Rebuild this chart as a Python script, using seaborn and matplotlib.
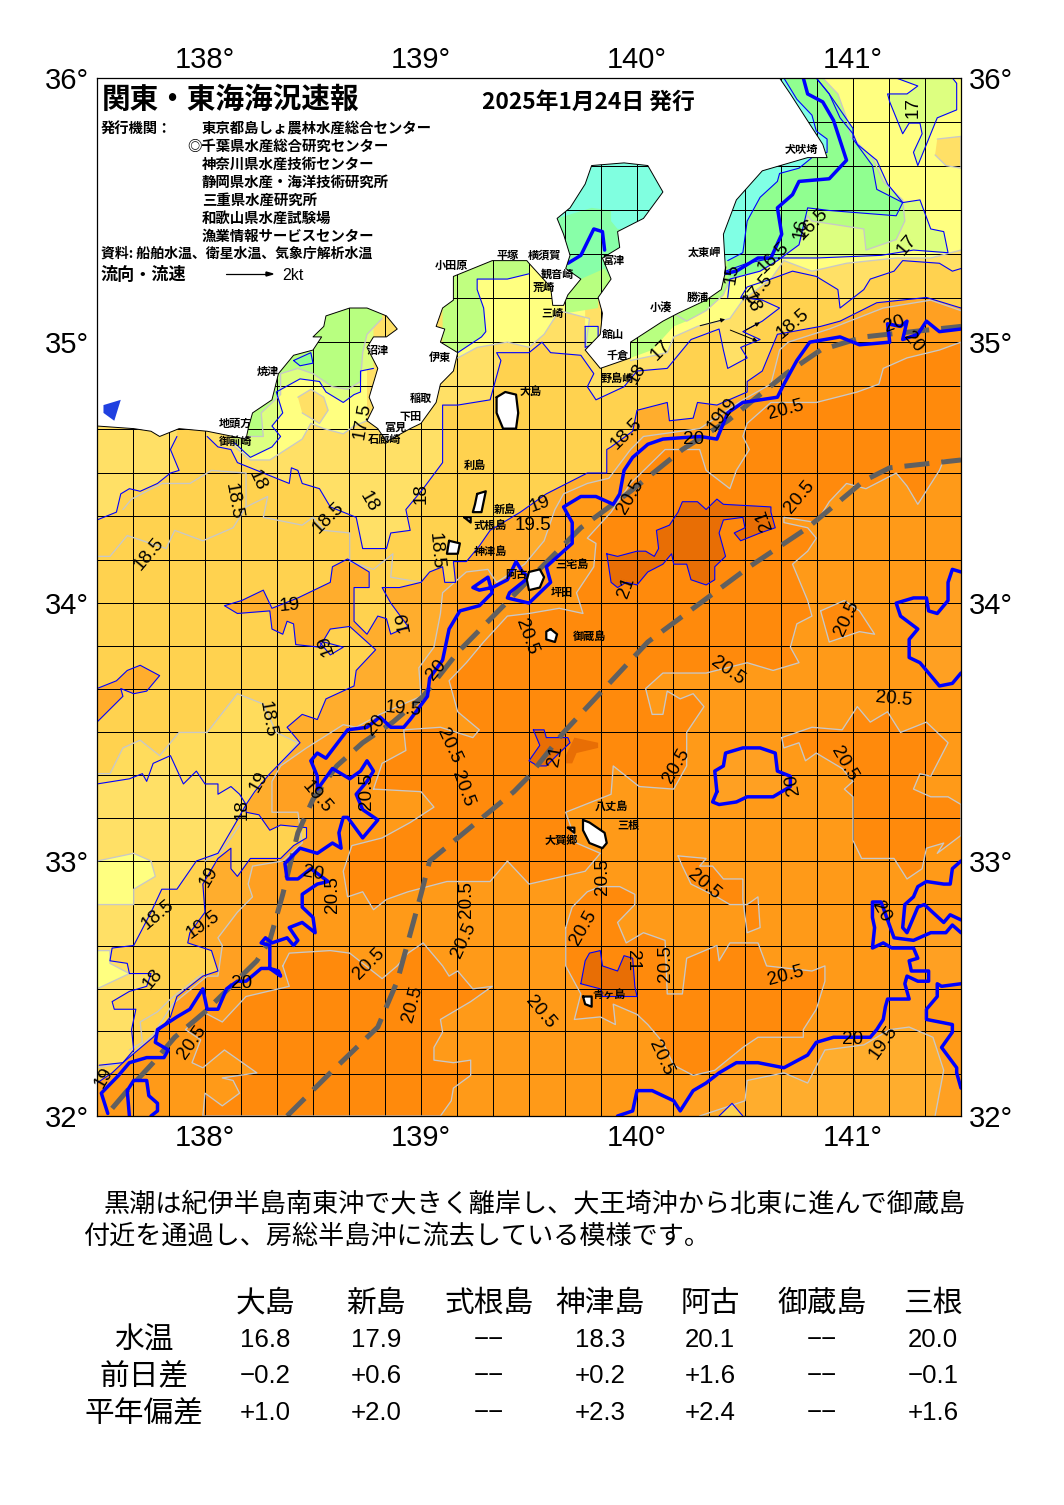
import numpy as np
import matplotlib
matplotlib.use("Agg")
import matplotlib.pyplot as plt
import seaborn as sns

# contour lines and areas, (lon, lat)
c20_main = [(137.55,32.01),(137.52,32.09),(137.60,32.16),(137.65,32.21),(137.73,32.23),(137.81,32.23),(137.83,32.26),(137.77,32.29),(137.78,32.34),(137.87,32.39),(137.93,32.42),(137.99,32.50),(138.01,32.42),(138.06,32.42),(138.10,32.50),(138.15,32.53),(138.19,32.53),(138.26,32.58),(138.30,32.58),(138.35,32.55),(138.34,32.57),(138.30,32.58),(138.30,32.67),(138.26,32.68),(138.28,32.70),(138.31,32.68),(138.38,32.70),(138.41,32.67),(138.43,32.69),(138.39,32.74),(138.45,32.76),(138.51,32.72),(138.50,32.78),(138.45,32.82),(138.45,32.87),(138.52,32.91),(138.57,32.92),(138.49,32.97),(138.43,32.93),(138.38,32.93),(138.37,32.99),(138.44,33.05),(138.52,33.03),(138.59,33.07),(138.63,33.05),(138.62,33.11),(138.64,33.17),(138.66,33.17),(138.73,33.09),(138.80,33.16),(138.73,33.20),(138.70,33.26),(138.75,33.31),(138.78,33.35),(138.75,33.39),(138.72,33.35),(138.67,33.32),(138.59,33.36),(138.53,33.29),(138.52,33.28),(138.52,33.33),(138.49,33.39),(138.52,33.42),(138.56,33.40),(138.66,33.51),(138.75,33.52),(138.81,33.56),(138.86,33.52),(138.92,33.52),(138.95,33.55),(139.03,33.64),(139.04,33.71),(139.10,33.78),(139.13,33.90),(139.18,33.97),(139.27,33.99),(139.33,34.04),(139.31,34.10),(139.24,34.06),(139.27,34.05),(139.33,34.06),(139.40,34.09),(139.44,34.16),(139.47,34.12),(139.50,34.10),(139.47,34.08),(139.41,34.04),(139.40,34.02),(139.50,34.00),(139.60,34.08),(139.58,34.14),(139.70,34.23),(139.70,34.31),(139.66,34.37),(139.74,34.41),(139.81,34.41),(139.89,34.38),(139.92,34.42),(139.94,34.51),(139.98,34.56),(140.05,34.61),(140.12,34.63),(140.29,34.64),(140.37,34.63),(140.42,34.73),(140.49,34.77),(140.65,34.79),(140.68,34.84),(140.74,34.93),(140.80,35.00),(140.94,35.02),(141.03,34.99),(141.17,35.00),(141.16,35.07),(141.22,35.06),(141.25,35.08),(141.23,35.01),(141.30,35.03),(141.34,35.08),(141.40,35.04),(141.50,35.05)]
c20_south = [(141.50,32.72),(141.46,32.75),(141.43,32.72),(141.36,32.72),(141.28,32.69),(141.19,32.70),(141.16,32.77),(141.13,32.84),(141.09,32.84),(141.09,32.78),(141.10,32.74),(141.09,32.66),(141.14,32.68),(141.18,32.66),(141.28,32.66),(141.30,32.62),(141.26,32.61),(141.27,32.57),(141.35,32.57),(141.35,32.53),(141.30,32.53),(141.25,32.55),(141.24,32.52),(141.26,32.46),(141.16,32.46),(141.15,32.43),(141.14,32.38),(141.11,32.34),(141.08,32.31),(140.91,32.31),(140.83,32.29),(140.79,32.24),(140.68,32.19),(140.56,32.21),(140.46,32.21),(140.38,32.17),(140.32,32.13),(140.26,32.10),(140.20,32.02),(140.17,32.06),(140.07,32.10),(140.00,32.10),(139.98,32.02),(139.91,32.00)]
c20_east = [(141.50,33.00),(141.46,32.97),(141.45,32.91),(141.42,32.91),(141.34,32.92),(141.30,32.90),(141.28,32.86),(141.24,32.83),(141.23,32.74),(141.25,32.72),(141.30,32.82),(141.33,32.83),(141.42,32.76),(141.45,32.79),(141.50,32.77)]
c20_pocket = [(141.50,32.52),(141.41,32.51),(141.39,32.52),(141.39,32.47),(141.34,32.42),(141.34,32.38),(141.46,32.36),(141.46,32.33),(141.41,32.27),(141.48,32.19),(141.48,32.17),(141.50,32.11)]
c20_ne_loop = [(141.50,34.12),(141.46,34.13),(141.44,34.08),(141.44,34.01),(141.39,33.96),(141.35,33.97),(141.34,34.02),(141.28,34.02),(141.20,34.00),(141.22,33.95),(141.30,33.90),(141.26,33.86),(141.26,33.79),(141.31,33.77),(141.40,33.68),(141.46,33.69),(141.50,33.73)]
c20_mid_loop = [(140.37,33.27),(140.36,33.35),(140.40,33.37),(140.41,33.42),(140.49,33.44),(140.57,33.44),(140.64,33.42),(140.65,33.35),(140.71,33.33),(140.71,33.29),(140.63,33.25),(140.51,33.25),(140.46,33.23),(140.38,33.22),(140.35,33.23),(140.37,33.27)]
c20_sw_loop = [(137.65,32.00),(137.64,32.10),(137.67,32.14),(137.73,32.14),(137.74,32.08),(137.78,32.05),(137.78,32.02),(137.75,32.00)]
c20_bay = [(139.68,35.30),(139.74,35.33),(139.80,35.43),(139.84,35.42),(139.85,35.35)]
c16_thick = [(140.40,35.26),(140.46,35.27),(140.56,35.32),(140.62,35.32),(140.67,35.41),(140.65,35.51),(140.72,35.56),(140.75,35.61),(140.89,35.62),(140.97,35.69),(140.91,35.84),(140.86,35.91),(140.79,35.94),(140.77,36.00)]

# kuroshio axis, two branches
kuroshio_north = [(137.57,32.03),(137.64,32.10),(137.76,32.21),(137.86,32.31),(138.00,32.41),(138.24,32.61),(138.30,32.69),(138.36,32.87),(138.43,33.11),(138.50,33.24),(138.61,33.37),(138.73,33.46),(138.87,33.54),(139.01,33.64),(139.17,33.81),(139.37,33.98),(139.50,34.09),(139.74,34.29),(139.97,34.43),(140.21,34.59),(140.42,34.70),(140.69,34.88),(140.85,34.97),(141.05,35.02),(141.50,35.06)]
kuroshio_south = [(138.38,32.00),(138.58,32.17),(138.80,32.35),(138.89,32.53),(139.00,32.87),(139.04,33.00),(139.17,33.09),(139.43,33.27),(139.50,33.33),(139.66,33.50),(140.05,33.85),(140.52,34.14),(140.79,34.29),(141.05,34.47),(141.17,34.52),(141.50,34.55)]

c195 = [(137.50,32.19),(137.62,32.21),(137.76,32.32),(137.85,32.44),(138.01,32.55),(138.06,32.55),(138.08,32.67),(138.06,32.70),(138.15,32.80),(138.22,32.86),(138.20,32.91),(138.22,32.98),(138.36,33.00),(138.45,33.07),(138.43,33.19),(138.31,33.19),(138.31,33.31),(138.35,33.37),(138.47,33.44),(138.64,33.53),(138.70,33.52),(138.81,33.57),(139.00,33.64),(138.99,33.75),(139.06,33.83),(139.09,33.96),(139.10,34.04),(139.21,34.12),(139.31,34.13),(139.35,34.08),(139.48,34.15),(139.57,34.24),(139.62,34.36),(139.66,34.42),(139.77,34.46),(139.87,34.48),(139.97,34.59),(140.03,34.64),(140.29,34.67),(140.49,34.78),(140.62,34.84),(140.66,34.97),(140.70,35.00),(140.89,35.05),(141.14,35.13),(141.36,35.16),(141.50,35.12)]
c19 = [(137.50,32.13),(137.57,32.17),(137.62,32.21),(137.76,32.31),(137.84,32.39),(137.87,32.47),(137.99,32.55),(138.06,32.57),(138.03,32.65),(137.92,32.68),(137.93,32.72),(138.00,32.80),(137.99,32.91),(138.06,33.01),(138.12,33.05),(138.12,32.97),(138.15,32.94),(138.21,33.01),(138.35,33.01),(138.41,33.06),(138.47,33.09),(138.47,33.13),(138.35,33.14),(138.30,33.12),(138.25,33.18),(138.19,33.19),(138.19,33.22),(138.23,33.27),(138.30,33.34),(138.44,33.46),(138.38,33.52),(138.45,33.57),(138.52,33.55),(138.56,33.63),(138.69,33.68),(138.70,33.74),(138.79,33.82),(138.67,33.91),(138.58,33.90),(138.53,33.83),(138.42,33.84),(138.41,33.92),(138.38,33.93),(138.36,33.88),(138.31,33.90),(138.30,33.97),(138.15,33.96),(138.09,33.99),(138.17,34.01),(138.27,34.05),(138.31,33.98),(138.43,34.02),(138.58,34.08),(138.59,34.14),(138.66,34.17),(138.76,34.12),(138.76,34.06),(138.69,34.06),(138.69,33.93),(138.75,33.88),(138.80,33.95),(138.84,33.94),(138.86,33.88),(138.94,33.91),(138.86,34.00),(138.82,34.06),(138.90,34.06),(139.00,34.08),(139.04,34.12),(139.10,34.14),(139.11,34.08),(139.16,34.08),(139.15,34.16),(139.21,34.16),(139.27,34.22),(139.32,34.28),(139.46,34.35),(139.58,34.42),(139.77,34.50),(139.86,34.50),(139.86,34.59),(139.88,34.60),(139.98,34.66),(140.00,34.74),(140.14,34.77),(140.15,34.70),(140.26,34.71),(140.28,34.77),(140.37,34.76),(140.51,34.81),(140.51,34.85),(140.58,34.89),(140.65,35.03),(140.85,35.06),(140.94,35.08),(141.11,35.15),(141.34,35.17),(141.50,35.13)]
c19_west = [(137.50,33.67),(137.59,33.70),(137.64,33.74),(137.70,33.76),(137.79,33.72),(137.73,33.66),(137.67,33.65),(137.61,33.67),(137.62,33.64),(137.56,33.59),(137.50,33.54)]
c19_small = [(138.53,33.85),(138.58,33.80),(138.64,33.83),(138.55,33.85)]

c18_west = [(137.50,34.32),(137.59,34.35),(137.61,34.42),(137.65,34.44),(137.70,34.43),(137.78,34.46),(137.84,34.50),(137.88,34.51),(137.84,34.59),(137.87,34.64)]
c18_main = [(138.01,34.64),(138.06,34.60),(138.12,34.59),(138.15,34.54),(138.39,34.46),(138.40,34.52),(138.43,34.51),(138.45,34.46),(138.53,34.44),(138.58,34.37),(138.70,34.33),(138.73,34.21),(138.84,34.21),(138.86,34.27),(138.95,34.28),(138.93,34.36),(139.01,34.44),(139.10,34.54),(139.10,34.59),(139.10,34.76),(139.17,34.76),(139.32,34.78),(139.33,34.81),(139.37,34.93),(139.35,34.96),(139.50,34.96),(139.56,35.00),(139.60,34.96),(139.74,34.95),(139.80,34.88),(139.77,34.83),(139.81,34.78),(139.94,34.83),(140.00,34.89),(140.14,34.90),(140.25,35.01),(140.38,35.05),(140.40,34.97),(140.42,34.90),(140.51,34.94),(140.48,34.98),(140.57,35.01),(140.49,35.04),(140.58,35.08),(140.66,35.13),(140.58,35.16),(140.48,35.17),(140.51,35.21),(140.62,35.24),(140.72,35.27),(140.83,35.25),(140.93,35.20),(140.94,35.13),(141.05,35.20),(141.08,35.24),(141.19,35.27),(141.23,35.31),(141.40,35.30),(141.46,35.27),(141.50,35.28)]
c18_south = [(137.50,33.30),(137.65,33.32),(137.71,33.34),(137.73,33.31),(137.76,33.38),(137.84,33.41),(137.90,33.30),(137.96,33.35),(138.00,33.30),(138.06,33.30),(138.06,33.26),(138.12,33.29),(138.16,33.26),(138.19,33.22),(138.15,33.16),(138.06,33.03),(137.96,33.00),(137.87,32.89),(137.80,32.89),(137.75,32.80),(137.67,32.67),(137.57,32.66),(137.56,32.61),(137.64,32.60),(137.65,32.56),(137.75,32.56),(137.73,32.51),(137.65,32.49),(137.57,32.45),(137.58,32.42),(137.68,32.42),(137.66,32.34),(137.67,32.26),(137.62,32.21),(137.51,32.20)]

g185_a = [(137.62,34.36),(137.66,34.40),(137.80,34.46),(137.93,34.46),(138.03,34.51),(138.19,34.50),(138.19,34.37),(138.13,34.29),(137.99,34.24),(137.86,34.28),(137.82,34.21),(137.64,34.26),(137.56,34.18),(137.50,34.18)]
g185_b = [(138.19,34.37),(138.29,34.41),(138.27,34.33),(138.45,34.30),(138.50,34.33),(138.55,34.28),(138.67,34.27),(138.67,34.16),(138.78,34.13),(138.87,34.19),(138.86,34.10),(139.00,34.08)]
g185_c = [(137.50,33.34),(137.56,33.34),(137.62,33.44),(137.70,33.47),(137.79,33.41),(137.88,33.50),(138.01,33.50),(138.15,33.65),(138.27,33.61),(138.33,33.50),(138.43,33.46),(138.35,33.38)]
g185_d = [(137.65,32.26),(137.71,32.29),(137.70,32.37),(137.78,32.41),(137.84,32.46),(137.87,32.48),(137.99,32.56)]
g185_e = [(138.00,33.00),(138.08,33.04),(138.16,33.14)]
yellow_a = [(137.50,33.00),(137.67,33.03),(137.75,33.00),(137.77,32.94),(137.67,32.89),(137.67,32.83),(137.50,32.83)]
yellow_b = [(137.50,32.65),(137.56,32.65),(137.56,32.60),(137.65,32.56),(137.50,32.50)]

# north of the coast bands, west to east
c175_suruga = [(138.11,34.62),(138.21,34.55),(138.30,34.55),(138.45,34.63),(138.49,34.69),(138.55,34.67),(138.64,34.65),(138.69,34.68),(138.75,34.70)]
suruga_warm = [(138.43,34.79),(138.49,34.82),(138.55,34.79),(138.57,34.74),(138.53,34.69),(138.45,34.73)]
c17_suruga = [(138.13,34.62),(138.21,34.56),(138.31,34.60),(138.35,34.64),(138.31,34.68),(138.36,34.73),(138.33,34.81),(138.44,34.86),(138.53,34.85),(138.56,34.81),(138.64,34.77),(138.69,34.80),(138.72,34.81),(138.72,34.89),(138.78,34.90)]
c165_suruga = [(138.20,34.64),(138.27,34.64),(138.26,34.73),(138.35,34.80),(138.35,34.88),(138.43,34.90),(138.50,34.88),(138.59,34.83),(138.66,34.82),(138.72,34.85),(138.73,34.96),(138.75,35.03),(138.82,35.09)]
c16_suruga = [(138.41,34.93),(138.49,34.96),(138.50,34.92),(138.44,34.91),(138.41,34.93)]
c17_sagami = [(139.17,34.96),(139.28,35.02),(139.30,35.04),(139.29,35.13),(139.26,35.20),(139.26,35.24),(139.40,35.24),(139.50,35.26)]
c175_sagami = [(139.17,34.94),(139.26,34.98),(139.40,35.00),(139.50,34.98),(139.57,35.03),(139.64,35.12),(139.78,35.09),(139.76,34.97)]
c175_east = [(139.97,34.93),(140.14,34.96),(140.17,35.02),(140.28,35.06),(140.43,35.09),(140.49,35.16),(140.62,35.24),(140.68,35.31),(140.81,35.27),(140.97,35.30),(141.20,35.32),(141.36,35.32),(141.50,35.35)]
c17_east = [(140.41,35.27),(140.51,35.30),(140.63,35.32),(140.83,35.32),(141.13,35.33),(141.28,35.35),(141.44,35.34),(141.42,35.42),(141.36,35.43),(141.31,35.54),(141.23,35.53),(141.16,35.60),(141.11,35.69),(141.02,35.75),(141.00,35.79),(140.94,35.85),(140.89,35.94),(140.83,36.00)]
c165_east = [(140.17,35.11),(140.23,35.08),(140.32,35.12),(140.40,35.18),(140.43,35.24),(140.57,35.27),(140.65,35.31),(140.75,35.37),(140.79,35.48),(140.81,35.46),(141.05,35.43),(141.06,35.35),(141.20,35.39),(141.24,35.46),(141.23,35.54),(141.14,35.61),(141.09,35.70),(140.99,35.78),(140.97,35.85),(140.93,35.94),(140.86,36.00)]
c16_east = [(140.42,35.17),(140.43,35.24),(140.57,35.27),(140.65,35.31),(140.75,35.37),(140.79,35.51),(140.89,35.50),(141.20,35.48),(141.23,35.53),(141.11,35.58),(141.09,35.67),(141.00,35.77),(141.00,35.81),(140.89,35.94),(140.83,36.00)]
c15_east = [(140.42,35.31),(140.49,35.34),(140.51,35.46),(140.57,35.55),(140.65,35.61),(140.66,35.64),(140.75,35.66),(140.81,35.70),(140.88,35.72),(140.88,35.77),(140.83,35.80),(140.81,35.86),(140.74,35.92),(140.68,36.00)]
blob_ne = [(141.20,36.00),(141.30,35.97),(141.25,35.94),(141.16,35.94),(141.17,35.91),(141.23,35.79),(141.26,35.83),(141.31,35.83),(141.32,35.79),(141.28,35.72),(141.30,35.67),(141.39,35.85),(141.48,35.88),(141.48,35.98),(141.46,36.00)]
patch_ne = [(141.39,35.77),(141.50,35.78),(141.50,35.66),(141.43,35.67),(141.38,35.71)]
bay_green = [(139.58,35.54),(140.00,35.54),(139.98,35.36),(139.85,35.32),(139.88,35.24),(139.83,35.17),(139.62,35.17),(139.62,35.31)]
bay_aqua = [(139.63,35.47),(139.79,35.51),(139.88,35.50),(139.88,35.46),(139.91,35.43)]
bay_mouth = [(139.67,35.20),(139.74,35.24),(139.85,35.28),(139.88,35.24),(139.82,35.17),(139.82,35.13),(139.67,35.11)]
tateyama = [(139.76,35.06),(139.82,35.06),(139.82,35.00),(139.76,34.98),(139.76,35.06)]
boso_south = [(139.97,34.94),(140.07,34.97),(140.17,35.06),(140.23,35.08),(140.17,35.12),(139.97,35.02)]

# warm side, 20.5 and 21 patches
warm_main = [(138.78,33.28),(138.82,33.38),(138.93,33.43),(138.92,33.51),(139.09,33.52),(139.24,33.48),(139.27,33.51),(139.17,33.58),(139.13,33.70),(139.21,33.77),(139.29,33.85),(139.40,33.95),(139.50,33.96),(139.64,33.98),(139.75,33.96),(139.72,34.04),(139.80,34.14),(139.81,34.23),(139.77,34.25),(139.88,34.35),(139.97,34.46),(140.13,34.59),(140.29,34.59),(140.32,34.51),(140.43,34.44),(140.46,34.51),(140.52,34.59),(140.49,34.64),(140.51,34.69),(140.62,34.77),(140.83,34.77),(141.02,34.81),(141.12,34.84),(141.14,34.90),(141.25,34.94),(141.40,34.97),(141.50,35.00),(141.50,34.55),(141.42,34.55),(141.40,34.51),(141.30,34.38),(141.25,34.45),(141.20,34.50),(141.06,34.44),(140.97,34.46),(140.89,34.39),(140.83,34.31),(140.68,34.33),(140.68,34.31),(140.79,34.29),(140.83,34.25),(140.79,34.20),(140.72,34.15),(140.79,34.01),(140.81,33.95),(140.74,33.92),(140.71,33.83),(140.75,33.77),(140.63,33.74),(140.51,33.77),(140.32,33.73),(140.12,33.73),(140.04,33.67),(140.07,33.57),(140.12,33.57),(140.14,33.66),(140.20,33.63),(140.26,33.65),(140.31,33.60),(140.23,33.50),(140.23,33.37),(140.17,33.28),(140.01,33.29),(139.89,33.37),(139.88,33.26),(139.67,33.19),(139.72,33.07),(139.83,33.03),(139.76,32.96),(139.50,32.91),(139.40,33.00),(139.32,32.92),(139.12,32.92),(138.94,32.88),(138.84,32.85),(138.78,32.81),(138.73,32.88),(138.66,32.86),(138.64,32.96),(138.68,33.06),(138.82,33.09),(138.95,33.15),(139.06,33.21),(139.00,33.27),(138.78,33.28)]
warm_sw = [(138.36,32.59),(138.39,32.64),(138.58,32.65),(138.67,32.64),(138.82,32.54),(138.89,32.59),(138.94,32.64),(139.01,32.68),(139.10,32.59),(139.13,32.55),(139.17,32.57),(139.24,32.50),(139.33,32.51),(139.23,32.45),(139.09,32.38),(139.10,32.33),(139.06,32.27),(139.06,32.22),(139.15,32.21),(139.23,32.22),(139.23,32.16),(139.15,32.11),(139.14,32.06),(139.09,32.00),(137.99,32.00),(138.00,32.09),(138.08,32.04),(138.16,32.09),(138.13,32.14),(138.08,32.15),(138.24,32.17),(138.09,32.26),(137.99,32.19),(137.94,32.21),(137.98,32.30),(137.91,32.34),(137.99,32.41),(138.08,32.37),(138.19,32.47),(138.39,32.51),(138.36,32.59)]
warm_se = [(139.67,32.74),(139.70,32.82),(139.77,32.88),(139.83,32.90),(139.92,32.90),(139.99,32.87),(139.99,32.83),(139.91,32.76),(139.95,32.68),(140.03,32.72),(140.13,32.69),(140.14,32.48),(140.21,32.48),(140.23,32.62),(140.37,32.67),(140.38,32.61),(140.43,32.68),(140.56,32.68),(140.60,32.59),(140.81,32.57),(140.87,32.59),(140.87,32.53),(140.83,32.42),(140.77,32.34),(140.77,32.31),(140.56,32.31),(140.49,32.27),(140.36,32.18),(140.26,32.16),(140.17,32.20),(140.12,32.29),(140.05,32.36),(140.00,32.40),(139.89,32.44),(139.90,32.36),(139.83,32.39),(139.71,32.38),(139.74,32.48),(139.67,32.59),(139.67,32.74)]
warm_lobe = [(140.19,33.02),(140.32,33.01),(140.29,32.98),(140.35,32.98),(140.40,32.93),(140.49,32.93),(140.49,32.85),(140.51,32.72),(140.57,32.74),(140.56,32.86),(140.51,32.83),(140.43,32.83),(140.37,32.86),(140.25,32.91),(140.21,32.98),(140.19,33.02)]
warm_east = [(140.67,33.48),(140.81,33.52),(140.95,33.51),(141.02,33.60),(141.08,33.54),(141.16,33.58),(141.22,33.50),(141.34,33.54),(141.44,33.46),(141.36,33.33),(141.31,33.34),(141.28,33.28),(141.36,33.25),(141.44,33.25),(141.50,33.22),(141.50,33.10),(141.39,33.03),(141.42,33.07),(141.34,33.05),(141.32,32.97),(141.25,32.93),(141.19,33.01),(141.04,33.01),(141.00,33.08),(141.00,33.25),(140.96,33.28),(141.00,33.31),(140.95,33.36),(140.83,33.42),(140.78,33.39),(140.75,33.46),(140.68,33.44),(140.67,33.48)]
warm_small = [(140.85,33.97),(140.96,34.01),(141.03,33.97),(141.10,33.88),(141.03,33.89),(140.89,33.85),(140.85,33.97)]
cool_south = [(140.29,32.00),(140.50,32.06),(140.51,32.14),(140.68,32.17),(140.79,32.13),(140.87,32.26),(141.05,32.28),(141.17,32.34),(141.26,32.35),(141.37,32.31),(141.42,32.18),(141.38,32.00)]
cool_tip = [(140.38,32.00),(140.44,32.05),(140.49,32.00)]
c21_north = [(139.86,34.19),(139.91,34.18),(140.00,34.20),(140.04,34.20),(140.08,34.18),(140.10,34.21),(140.09,34.28),(140.15,34.30),(140.19,34.35),(140.21,34.39),(140.28,34.39),(140.32,34.36),(140.37,34.40),(140.40,34.38),(140.62,34.37),(140.62,34.35),(140.64,34.29),(140.57,34.27),(140.48,34.24),(140.45,34.27),(140.50,34.29),(140.49,34.33),(140.40,34.32),(140.38,34.27),(140.41,34.18),(140.36,34.14),(140.36,34.09),(140.32,34.07),(140.25,34.09),(140.23,34.15),(140.17,34.15),(140.16,34.19),(140.12,34.15),(140.05,34.12),(140.00,34.07),(139.95,34.08),(139.91,34.06),(139.88,34.08),(139.86,34.19)]
c21_mid = [(139.52,33.51),(139.57,33.51),(139.58,33.48),(139.68,33.48),(139.69,33.46),(139.64,33.42),(139.58,33.37),(139.54,33.37),(139.50,33.39),(139.55,33.45),(139.52,33.51)]
c21_bit = [(139.71,33.48),(139.82,33.46),(139.82,33.44),(139.72,33.42),(139.70,33.38),(139.67,33.38),(139.67,33.41)]
c21_south = [(139.74,32.52),(139.76,32.61),(139.78,32.64),(139.83,32.65),(139.84,32.59),(139.91,32.57),(139.94,32.63),(139.98,32.62),(139.99,32.51),(140.00,32.47),(139.84,32.47),(139.83,32.50),(139.74,32.52)]

# coast and islands
coast = [(137.50,34.68),(137.67,34.67),(137.75,34.66),(137.79,34.64),(137.88,34.67),(138.01,34.66),(138.19,34.63),(138.20,34.67),(138.22,34.73),(138.31,34.78),(138.34,34.88),(138.41,34.95),(138.50,34.97),(138.54,35.02),(138.50,35.02),(138.55,35.06),(138.56,35.10),(138.67,35.13),(138.75,35.13),(138.84,35.10),(138.89,35.05),(138.84,35.02),(138.78,35.02),(138.75,34.98),(138.80,34.90),(138.76,34.79),(138.78,34.75),(138.75,34.70),(138.80,34.67),(138.84,34.62),(138.95,34.67),(139.00,34.69),(139.07,34.77),(139.09,34.84),(139.15,34.89),(139.17,34.96),(139.09,35.00),(139.11,35.05),(139.07,35.06),(139.10,35.13),(139.15,35.16),(139.15,35.25),(139.21,35.27),(139.33,35.31),(139.49,35.31),(139.50,35.30),(139.60,35.21),(139.61,35.14),(139.66,35.14),(139.68,35.18),(139.74,35.24),(139.67,35.28),(139.69,35.33),(139.66,35.41),(139.63,35.47),(139.69,35.51),(139.76,35.60),(139.79,35.67),(139.94,35.68),(140.05,35.67),(140.12,35.57),(140.03,35.47),(139.91,35.42),(139.92,35.36),(139.84,35.32),(139.88,35.24),(139.82,35.17),(139.84,35.11),(139.83,35.03),(139.76,34.97),(139.83,34.90),(139.97,34.94),(139.97,35.00),(140.12,35.08),(140.19,35.11),(140.32,35.16),(140.39,35.20),(140.41,35.27),(140.40,35.41),(140.46,35.54),(140.58,35.65),(140.79,35.70),(140.88,35.70),(140.86,35.75),(140.71,35.94),(140.66,36.00)]
lake = [(137.53,34.76),(137.61,34.78),(137.58,34.70),(137.53,34.73)]
oshima = [(139.35,34.79),(139.39,34.81),(139.44,34.80),(139.45,34.73),(139.44,34.67),(139.38,34.67),(139.35,34.73)]
niijima = [(139.26,34.42),(139.30,34.43),(139.28,34.35),(139.24,34.35),(139.25,34.38)]
shikine = [(139.20,34.33),(139.23,34.33),(139.23,34.31)]
kozu = [(139.13,34.24),(139.18,34.23),(139.17,34.19),(139.12,34.19)]
miyake = [(139.50,34.12),(139.55,34.13),(139.57,34.10),(139.55,34.06),(139.50,34.05),(139.49,34.09)]
mikura = [(139.60,33.90),(139.63,33.88),(139.62,33.85),(139.58,33.86),(139.58,33.89)]
hachijo = [(139.75,33.16),(139.78,33.15),(139.85,33.11),(139.86,33.07),(139.84,33.05),(139.78,33.07),(139.75,33.12)]
kojima = [(139.68,33.13),(139.71,33.13),(139.71,33.11)]
aogashima = [(139.75,32.47),(139.79,32.47),(139.79,32.43),(139.76,32.44)]

# contour labels
label_text = ["18.5","18.5","18.5","18","18","18","18.5","19","19","19","19","19.5","19.5","20","20","20.5","20.5","20.5","21","21","20.5","20.5","20.5","20.5","20.5","20","21","20.5","20.5","20.5","19.5","19","18","18.5","18.5","19.5","19","18","19","20","20.5","20","20.5","20.5","20.5","20.5","20.5","20.5","20.5","20.5","20.5","20.5","20.5","20.5","20","19.5","21","20","19","19","18.5","18.5","20.5","20","20","20","18","17","17.5","18","17","16.5","16","16.5","15","17","17.5"]
label_lon = [137.74,138.13,138.57,138.24,138.76,139.00,139.07,138.39,138.56,138.92,139.55,139.52,138.92,139.07,138.79,139.49,139.97,140.75,139.95,140.59,140.97,140.42,141.19,140.18,140.96,140.72,139.62,139.13,139.19,138.75,138.52,138.25,138.17,138.29,137.78,137.99,138.02,137.76,137.53,138.17,137.94,138.50,138.59,138.76,138.96,139.21,139.20,139.84,139.75,140.31,140.13,140.69,139.55,140.11,141.00,141.14,139.98,141.13,140.42,140.37,140.72,139.95,140.69,140.26,141.28,141.19,140.00,140.11,140.56,140.53,141.25,140.81,140.76,140.63,140.44,141.28,138.73]
label_lat = [34.19,34.39,34.33,34.47,34.39,34.42,34.20,33.99,33.84,33.93,34.38,34.30,33.59,33.74,33.53,33.87,34.41,34.41,34.06,34.32,33.94,33.74,33.63,33.37,33.38,33.30,33.41,33.45,33.28,33.27,33.25,33.31,33.20,33.55,32.79,32.75,32.94,32.54,32.15,32.52,32.29,32.95,32.87,32.60,32.44,32.85,32.69,32.94,32.74,32.91,32.60,32.55,32.41,32.23,32.30,32.29,32.61,32.80,34.75,34.70,35.07,34.65,34.74,34.63,35.00,35.07,34.88,34.97,35.20,35.15,35.37,35.45,35.43,35.32,35.26,35.89,34.70]
label_rot = [50,-80,45,-65,-60,90,-85,5,110,100,20,0,-5,50,50,-70,60,50,70,110,65,-35,-5,60,-60,100,80,-65,-70,90,-50,60,90,-80,40,35,60,50,60,0,55,-10,90,45,75,90,65,90,60,-40,90,15,-50,-65,0,55,-90,-60,55,55,40,45,15,0,-50,20,60,45,50,-70,50,45,80,45,80,90,80]

place_names = ["小田原","平塚","横須賀","観音崎","荒崎","三崎","富津","館山","千倉","野島崎","小湊","勝浦","太東岬","犬吠埼","大島","利島","新島","式根島","神津島","三宅島","阿古","坪田","御蔵島","八丈島","三根","大賀郷","青ヶ島","沼津","焼津","地頭方","御前崎","伊東","稲取","下田","富見","石廊崎"]
place_lon = [139.14,139.40,139.57,139.63,139.57,139.61,139.89,139.89,139.91,139.91,140.11,140.28,140.31,140.76,139.51,139.25,139.39,139.32,139.32,139.70,139.44,139.65,139.78,139.88,139.96,139.65,139.87,138.80,138.29,138.14,138.14,139.09,139.00,138.95,138.88,138.83]
place_lat = [35.29,35.33,35.33,35.26,35.21,35.11,35.31,35.03,34.95,34.86,35.13,35.17,35.34,35.73,34.81,34.53,34.36,34.30,34.20,34.15,34.11,34.04,33.87,33.21,33.14,33.08,32.48,34.97,34.89,34.69,34.62,34.94,34.785,34.715,34.675,34.63]

offices = ["東京都島しょ農林水産総合センター","◎千葉県水産総合研究センター","神奈川県水産技術センター","静岡県水産・海洋技術研究所","三重県水産研究所","和歌山県水産試験場","漁業情報サービスセンター"]
stations = ["大島","新島","式根島","神津島","阿古","御蔵島","三根"]
row_names = ["水温","前日差","平年偏差"]
water_temp = ["16.8","17.9","−−","18.3","20.1","−−","20.0"]
day_diff = ["−0.2","+0.6","−−","+0.2","+1.6","−−","−0.1"]
normal_diff = ["+1.0","+2.0","−−","+2.3","+2.4","−−","+1.6"]
lon_ticks = [138, 139, 140, 141]
lat_ticks = [32, 33, 34, 35, 36]

sns.set_theme(style="white")
plt.rcParams['font.family'] = ['Liberation Sans', 'Noto Sans CJK JP', 'DejaVu Sans']
JP = ['Noto Sans CJK JP', 'DejaVu Sans']

BLUE = "#0000ff"
GREY = "#c8c8c8"


def merc(lat):
    return np.log(np.tan(np.pi / 4 + np.radians(np.clip(lat, 1, 89)) / 2))


def merc_inv(y):
    return np.degrees(2 * np.arctan(np.exp(y)) - np.pi / 2)


fig = plt.figure(figsize=(10.64, 15.05), dpi=100)
ax = fig.add_axes([97 / 1064, 1 - 1116 / 1505, 864 / 1064, 1038 / 1505])
ax.set_yscale("function", functions=(merc, merc_inv))
ax.set_facecolor("#ff9a18")


def band(pts, color, outer=()):
    a = np.array(list(pts) + list(outer))
    ax.fill(a[:, 0], a[:, 1], color=color, lw=0, zorder=1)


def line(pts, color, lw, **kw):
    a = np.array(pts)
    sns.lineplot(x=a[:, 0], y=a[:, 1], sort=False, estimator=None, errorbar=None,
                 color=color, linewidth=lw, legend=False, ax=ax, zorder=1, **kw)


# warm patches first
for p in [warm_main, warm_sw, warm_se, warm_lobe, warm_east, warm_small]:
    band(p, "#ff8a0c")
for p in [c21_north, c21_mid, c21_bit, c21_south]:
    band(p, "#e86e05")
band(c20_ne_loop, "#ffa022", [(141.6, 33.73), (141.6, 34.12)])
band(c20_mid_loop, "#ffa022")
band(c20_sw_loop, "#ffa022", [(137.75, 31.9), (137.65, 31.9)])
band(c20_south, "#ffa022", [(139.91, 31.9), (141.6, 31.9), (141.6, 32.72)])
band(cool_south, "#ffad2d", [(141.38, 31.9), (140.29, 31.9)])
band(cool_tip, "#ffd24f", [(140.49, 31.9), (140.38, 31.9)])
band(c20_pocket, "#ff9a18", [(141.6, 32.11), (141.6, 32.52)])

# cold side of each contour, warmest to coldest
band(c20_main, "#ffa022", [(141.6, 35.05), (141.6, 36.1), (137.4, 36.1), (137.4, 32.0)])
band(c195, "#ffad2d", [(141.6, 35.12), (141.6, 36.1), (137.4, 36.1), (137.4, 32.19)])
band(c19, "#ffd24f", [(141.6, 35.13), (141.6, 36.1), (137.4, 36.1), (137.4, 32.13)])
band(c19_west, "#ffad2d", [(137.4, 33.54), (137.4, 33.67)])
band(g185_c, "#ffdc5c", [(138.30, 33.34), (138.19, 33.22), (137.50, 33.30)])
band(c18_south, "#ffe066", [(137.4, 32.2), (137.4, 33.3)])
band(yellow_a, "#ffff80")
band(yellow_b, "#ffff80")
band(c18_west, "#ffe066", [(137.87, 34.8), (137.4, 34.8), (137.4, 34.32)])
band(c18_main, "#ffe066", [(141.6, 35.28), (141.6, 36.1), (138.01, 36.1)])
band(c175_suruga, "#ffff80", [(138.75, 35.2), (138.11, 35.2)])
band(suruga_warm, "#ffe066")
band(c17_suruga, "#ddff80", [(138.78, 35.2), (138.13, 35.2)])
band(c165_suruga, "#b8ff80", [(138.82, 35.2), (138.20, 35.2)])
band(c16_suruga, "#90ff90")
band(c175_sagami, "#ffff80", [(139.76, 35.4), (139.17, 35.4)])
band(c17_sagami, "#c0ff80", [(139.50, 35.4), (139.10, 35.4), (139.10, 34.96)])
band(c175_east, "#ffff80", [(141.6, 35.35), (141.6, 36.1), (139.97, 36.1)])
band(patch_ne, "#ffe066")
band(c17_east, "#ddff80", [(140.83, 36.1), (140.3, 36.1), (140.3, 35.27)])
band(blob_ne, "#ddff80", [(141.46, 36.1), (141.20, 36.1)])
band(tateyama, "#ddff80")
band(boso_south, "#b8ff80")
band(c165_east, "#b8ff80", [(140.86, 36.1), (140.17, 36.1)])
band(c16_east, "#90ff90", [(140.83, 36.1), (140.42, 36.1)])
band(c15_east, "#80ffe4", [(140.68, 36.1), (140.3, 36.1), (140.3, 35.31)])
band(bay_green, "#88ffa8")
band(bay_mouth, "#b8ff80")
band(bay_aqua, "#80ffe0", [(140.2, 35.43), (140.2, 35.85), (139.63, 35.85)])

# 10 minute grid
grid_lon = np.arange(137.5, 141.51, 1 / 6)
grid_lat = np.arange(32, 36.01, 1 / 6)
ax.vlines(grid_lon, 32, 36, color="black", lw=0.72, zorder=1)
ax.hlines(grid_lat, 137.5, 141.5, color="black", lw=0.72, zorder=1)

# contour lines
for p in [warm_main, warm_sw, warm_se, warm_lobe, warm_east, warm_small, cool_south,
          c195, g185_a, g185_b, g185_c, g185_d, g185_e, c175_suruga, suruga_warm,
          c165_suruga, c175_sagami, c175_east, c165_east, patch_ne, yellow_a, yellow_b]:
    line(p, GREY, 0.95)
for p in [c21_north, c21_mid, c21_south, c19, c19_west, c19_small, c18_west, c18_main,
          c18_south, c17_suruga, c16_suruga, c17_sagami, c17_east, blob_ne, c16_east,
          c15_east, tateyama, cool_tip]:
    line(p, BLUE, 0.8)
line(kuroshio_north, "#606060", 3.6, linestyle=(0, (5, 2.4)))
line(kuroshio_south, "#606060", 3.6, linestyle=(0, (5, 2.4)))
for p in [c20_main, c20_south, c20_east, c20_pocket, c20_ne_loop, c20_mid_loop,
          c20_sw_loop, c20_bay, c16_thick]:
    line(p, BLUE, 2.5)

# land on top of the sea
band(coast, "white", [(140.66, 36.1), (137.4, 36.1), (137.4, 34.68)])
line(coast, "black", 0.7)
band(lake, "#2040e0")
for p in [oshima, niijima, shikine, kozu, miyake, mikura, hachijo, kojima, aogashima]:
    band(p, "white")
    line(p + p[:1], "black", 1.6)

# small flow arrows off Boso
ax.annotate("", xy=(140.57, 35.00), xytext=(140.42, 35.05), zorder=3,
            arrowprops=dict(arrowstyle="-|>", color="black", lw=0.7, mutation_scale=6))
ax.annotate("", xy=(140.58, 35.08), xytext=(140.49, 35.04), zorder=3,
            arrowprops=dict(arrowstyle="-|>", color="black", lw=0.7, mutation_scale=6))
ax.annotate("", xy=(140.42, 35.09), xytext=(140.28, 35.06), zorder=3,
            arrowprops=dict(arrowstyle="-|>", color="black", lw=0.7, mutation_scale=6))

for txt, lo, la, rot in zip(label_text, label_lon, label_lat, label_rot):
    ax.text(lo, la, txt, rotation=rot, ha="center", va="center", fontsize=13.6,
            color="black", zorder=4, rotation_mode="anchor")
for txt, lo, la in zip(place_names, place_lon, place_lat):
    ax.text(lo, la, txt, ha="center", va="center", fontsize=8, fontweight="bold",
            family=JP, color="black", zorder=5)

ax.set_xlim(137.5, 141.5)
ax.set_ylim(32, 36)
ax.set_xlabel("")
ax.set_ylabel("")
ax.set_xticks(lon_ticks, [f"{v}°" for v in lon_ticks])
ax.set_yticks(lat_ticks, [f"{v}°" for v in lat_ticks])
ax.minorticks_off()
ax.tick_params(axis="both", length=0, labelsize=21, labeltop=False, labelright=True,
               labelbottom=True, labelleft=True, pad=6, colors="black")
top_axis = ax.secondary_xaxis("top")
top_axis.set_xticks(lon_ticks, [f"{v}°" for v in lon_ticks])
top_axis.tick_params(axis="x", length=0, labelsize=21, pad=3, colors="black")
top_axis.spines["top"].set_visible(False)
for s in ax.spines.values():
    s.set_visible(True)
    s.set_color("black")
    s.set_linewidth(0.9)


def put(x, y, s, size, bold=False, ha="left", family=JP):
    fig.text(x / 1064, 1 - (y + 2) / 1505, s, fontsize=size, ha=ha, va="center",
             family=family, fontweight="bold" if bold else "normal", color="black")


# header block
put(102, 97, "関東・東海海況速報", 20.6, True)
put(482, 100, "2025年1月24日 発行", 16.4, True)
put(101, 127, "発行機関：", 10.3, True)
for i, name in enumerate(offices):
    put(187 if name.startswith("◎") else 202, 127 + 18 * i, name, 10.4, True)
put(101, 252, "資料: 船舶水温、衛星水温、気象庁解析水温", 10.0, True)
put(101, 273, "流向・流速", 12.3, True)
put(282, 273, "2kt", 11.5, family=['Liberation Sans'])
fig.add_artist(plt.Line2D([226 / 1064, 266 / 1064], [1 - 274 / 1505] * 2, color="black", lw=0.9))
fig.add_artist(plt.Polygon([[266 / 1064, 1 - 272 / 1505], [273 / 1064, 1 - 274 / 1505],
                            [266 / 1064, 1 - 276 / 1505]], color="black"))

# comment under the map
put(104, 1202, "黒潮は紀伊半島南東沖で大きく離岸し、大王埼沖から北東に進んで御蔵島", 18.8)
put(83, 1234, "付近を通過し、房総半島沖に流去している模様です。", 18.8)

# station table
col_x = [265, 376, 489, 600, 710, 822, 933]
for x, st, a, b, c in zip(col_x, stations, water_temp, day_diff, normal_diff):
    put(x, 1301, st, 21.4, ha="center")
    put(x, 1338, a, 18.6, ha="center", family=['Liberation Sans'])
    put(x, 1374, b, 18.6, ha="center", family=['Liberation Sans'])
    put(x, 1411, c, 18.6, ha="center", family=['Liberation Sans'])
for y, name in zip([1338, 1374, 1411], row_names):
    put(144, y, name, 21.4, ha="center")

fig.savefig("out.png", dpi=100)
